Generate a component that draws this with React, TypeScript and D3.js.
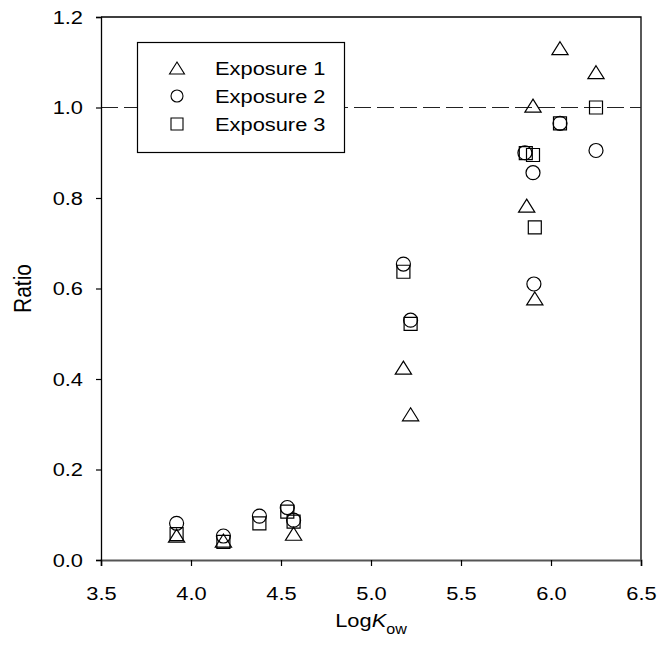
import React, { useRef, useEffect } from "react";
import * as d3 from "d3";

// log Kow / ratio pairs per exposure
const exp1X = [3.92, 4.18, 4.57, 5.18, 5.22, 5.865, 5.9, 5.91, 6.05, 6.25];
const exp1Y = [0.054, 0.043, 0.058, 0.425, 0.322, 0.783, 1.004, 0.578, 1.131, 1.078];

const exp2X = [3.92, 4.18, 4.38, 4.535, 4.57, 5.18, 5.22, 5.855, 5.9, 5.905, 6.05, 6.25];
const exp2Y = [0.081, 0.053, 0.097, 0.116, 0.088, 0.654, 0.53, 0.9, 0.856, 0.61, 0.965, 0.905];

const exp3X = [3.92, 4.18, 4.38, 4.535, 4.57, 5.18, 5.22, 5.86, 5.9, 5.91, 6.05, 6.25];
const exp3Y = [0.057, 0.04, 0.081, 0.107, 0.085, 0.637, 0.522, 0.899, 0.895, 0.735, 0.965, 1.0];

const xTicks = [3.5, 4.0, 4.5, 5.0, 5.5, 6.0, 6.5];
const yTicks = [0.0, 0.2, 0.4, 0.6, 0.8, 1.0, 1.2];
const seriesNames = ["Exposure 1", "Exposure 2", "Exposure 3"];
const refLine = 1.0;

const FONT = "'Liberation Sans', Arial, sans-serif";
const SX = 1.15; // text in the source image is a bit wider than plain Arial

const markerPath = (shape: string, s: number) => {
	if (shape === "triangle") {
		const w = s * 1.25;
		const h = s;
		return `M0,${-h / 2}L${w / 2},${h / 2}L${-w / 2},${h / 2}Z`;
	}
	if (shape === "square") {
		return `M${-s / 2},${-s / 2}h${s}v${s}h${-s}Z`;
	}
	const r = s / 2;
	return `M${r},0A${r},${r} 0 1,1 ${-r},0A${r},${r} 0 1,1 ${r},0Z`;
};

const App = () => {
	const ref = useRef<SVGSVGElement | null>(null);
	const width = 657;
	const height = 652;
	const margin = { top: 17, right: 16, bottom: 92, left: 101 };

	useEffect(() => {
		const svg = d3.select(ref.current);
		svg.selectAll("*").remove();

		const x = d3.scaleLinear().domain([3.5, 6.5]).range([margin.left, width - margin.right]);
		const y = d3.scaleLinear().domain([0, 1.2]).range([height - margin.bottom, margin.top]);

		const shapes = ["triangle", "circle", "square"];
		const series = [
			exp1X.map((d, i) => ({ x: d, y: exp1Y[i] })),
			exp2X.map((d, i) => ({ x: d, y: exp2Y[i] })),
			exp3X.map((d, i) => ({ x: d, y: exp3Y[i] })),
		];

		// frame (top + right)
		svg.append("path")
			.attr("d", `M${x(3.5)},${y(1.2)}H${x(6.5)}V${y(0)}`)
			.attr("fill", "none")
			.attr("stroke", "#000")
			.attr("stroke-width", 1.3);

		// dashed reference line
		svg.append("line")
			.attr("x1", x(3.5))
			.attr("x2", x(6.5))
			.attr("y1", y(refLine))
			.attr("y2", y(refLine))
			.attr("stroke", "#222")
			.attr("stroke-width", 1)
			.attr("stroke-dasharray", "17,6");

		const xAxis = svg.append("g")
			.attr("transform", `translate(0,${y(0)})`)
			.call(d3.axisBottom(x).tickValues(xTicks).tickFormat(d3.format(".1f")).tickSizeOuter(0).tickSize(6).tickPadding(21));
		xAxis.select(".domain").attr("stroke", "#555").attr("stroke-width", 1.8);
		xAxis.selectAll(".tick line").attr("stroke", "#000").attr("stroke-width", 1.2);
		xAxis.selectAll(".tick text").attr("transform", `scale(${SX},1)`);

		const yAxis = svg.append("g")
			.attr("transform", `translate(${x(3.5)},0)`)
			.call(d3.axisLeft(y).tickValues(yTicks).tickFormat(d3.format(".1f")).tickSizeOuter(0).tickSize(5).tickPadding(13));
		yAxis.select(".domain").attr("stroke", "#000").attr("stroke-width", 1.3);
		yAxis.selectAll(".tick line").attr("stroke", "#000").attr("stroke-width", 1.2);
		yAxis.selectAll(".tick text")
			.attr("x", -18 / SX)
			.attr("transform", `scale(${SX},1)`);

		svg.selectAll(".tick text")
			.attr("font-family", FONT)
			.attr("font-size", 19)
			.attr("fill", "#000");

		// markers
		series.forEach((pts, si) => {
			const size = shapes[si] === "circle" ? 14 : 13;
			svg.append("g")
				.selectAll("path")
				.data(pts)
				.enter()
				.append("path")
				.attr("transform", (d) => `translate(${x(d.x)},${y(d.y)})`)
				.attr("d", markerPath(shapes[si], size))
				.attr("fill", "none")
				.attr("stroke", "#000")
				.attr("stroke-width", 1.2);
		});

		// legend
		const lg = svg.append("g");
		lg.append("rect")
			.attr("x", 137.5)
			.attr("y", 42.5)
			.attr("width", 207)
			.attr("height", 110)
			.attr("fill", "#fff")
			.attr("stroke", "#000")
			.attr("stroke-width", 1.2);
		seriesNames.forEach((name, i) => {
			const cy = 68 + i * 28;
			lg.append("path")
				.attr("transform", `translate(177,${cy})`)
				.attr("d", markerPath(shapes[i], 12))
				.attr("fill", "none")
				.attr("stroke", "#000")
				.attr("stroke-width", 1.1);
			lg.append("g")
				.attr("transform", `translate(215,${cy}) scale(${SX},1)`)
				.append("text")
				.attr("dy", "0.36em")
				.attr("font-family", FONT)
				.attr("font-size", 19)
				.text(name);
		});

		// axis titles
		const xt = svg.append("g")
			.attr("transform", `translate(${(x(3.5) + x(6.5)) / 2},627) scale(${SX},1)`)
			.append("text")
			.attr("text-anchor", "middle")
			.attr("font-family", FONT)
			.attr("font-size", 19);
		xt.append("tspan").text("Log");
		xt.append("tspan").attr("font-style", "italic").text("K");
		xt.append("tspan").attr("font-size", 14).attr("dy", 7).text("ow");

		svg.append("text")
			.attr("transform", `translate(31,${(y(0) + y(1.2)) / 2}) rotate(-90) scale(1,${SX})`)
			.attr("text-anchor", "middle")
			.attr("font-family", FONT)
			.attr("font-size", 21)
			.text("Ratio");
	}, []);

	return (
		<svg
			ref={ref}
			width={width}
			height={height}
			style={{ position: "absolute", left: 0, top: 0, background: "#fff" }}
		/>
	);
};

export default App;
